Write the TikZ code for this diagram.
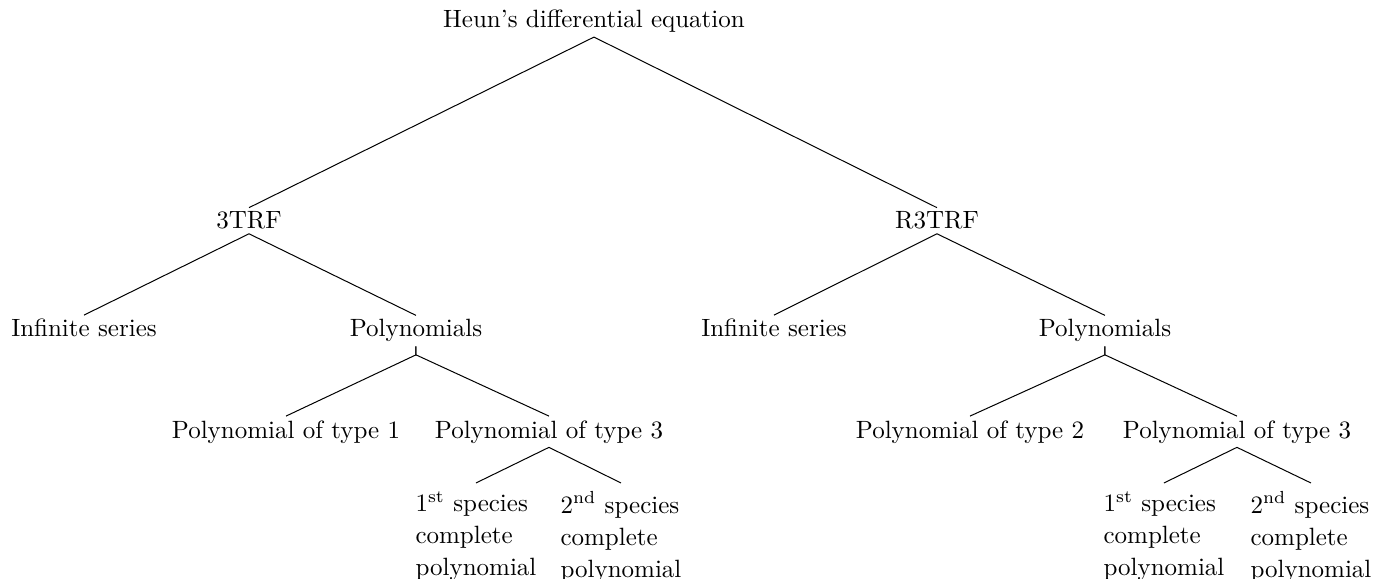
\documentclass[tikz,border=0pt]{standalone}
\usepackage{amsmath}
\usepackage{tikz}

\begin{document}
\begin{tikzpicture}[scale=0.1406]
	\tikzstyle{every node}+=[anchor=base, inner sep=1.5pt]
	\tikzstyle{leaf}=[anchor=north, align=left, inner sep=.3333em]
	\useasboundingbox (0,0) rectangle (137.3,-57.9);
	\node (heun) at (59.4,-2.8) {Heun's differential equation};
	\node (trf) at (24.9,-22.9) {3TRF};
	\node (rtrf) at (93.7,-22.9) {R3TRF};
	\node (infl) at (8.4,-33.7) {Infinite series};
	\node (poll) at (41.6,-33.7) {Polynomials};
	\node (infr) at (77.4,-33.7) {Infinite series};
	\node (polr) at (110.5,-33.7) {Polynomials};
	\node (ptone) at (28.6,-43.8) {Polynomial of type 1};
	\node (ptthreel) at (54.9,-43.8) {Polynomial of type 3};
	\node (pttwo) at (97.0,-43.8) {Polynomial of type 2};
	\node (ptthreer) at (123.7,-43.8) {Polynomial of type 3};
	\node [leaf] (fsl) at (47.6,-48.3) {1\textsuperscript{st} species\\[0.8pt]complete\\[0.8pt]polynomial};
	\node [leaf] (ssl) at (62.1,-48.3) {2\textsuperscript{nd} species\\[0.8pt]complete\\[0.8pt]polynomial};
	\node [leaf] (fsr) at (116.4,-48.3) {1\textsuperscript{st} species\\[0.8pt]complete\\[0.8pt]polynomial};
	\node [leaf] (ssr) at (131.1,-48.3) {2\textsuperscript{nd} species\\[0.8pt]complete\\[0.8pt]polynomial};
	\draw [black] (heun.south) -- (trf.north);
	\draw [black] (heun.south) -- (rtrf.north);
	\draw [black] (trf.south) -- (infl.north);
	\draw [black] (trf.south) -- (poll.north);
	\draw [black] (rtrf.south) -- (infr.north);
	\draw [black] (rtrf.south) -- (polr.north);
	\draw [black] (poll.south) -- ++(0,-0.85) -- (ptone.north);
	\draw [black] (poll.south) -- ++(0,-0.85) -- (ptthreel.north);
	\draw [black] (polr.south) -- ++(0,-0.85) -- (pttwo.north);
	\draw [black] (polr.south) -- ++(0,-0.85) -- (ptthreer.north);
	\draw [black] (ptthreel.south) -- (fsl.north);
	\draw [black] (ptthreel.south) -- (ssl.north);
	\draw [black] (ptthreer.south) -- (fsr.north);
	\draw [black] (ptthreer.south) -- (ssr.north);
\end{tikzpicture}
\end{document}
